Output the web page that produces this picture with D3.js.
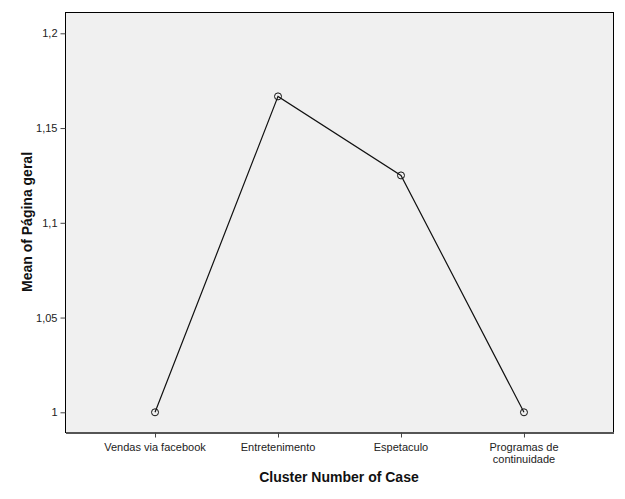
<!DOCTYPE html>
<html><head><meta charset="utf-8">
<script src="https://cdn.jsdelivr.net/npm/d3@7"></script>
<style>body{margin:0;background:#fff}svg{display:block}text{font-family:Arial,"Liberation Sans",sans-serif}</style>
</head><body><svg id="c" width="625" height="499"></svg>
<script>
const categories = [["Vendas via facebook"],["Entretenimento"],["Espetaculo"],["Programas de","continuidade"]];
const values = [1.0, 1.1667, 1.125, 1.0];
const yTicks = [1, 1.05, 1.1, 1.15, 1.2];
const yTickLabels = ["1","1,05","1,1","1,15","1,2"];
const xTitle = "Cluster Number of Case";
const yTitle = "Mean of Página geral";

const svg = d3.select("#c");
const L=65.5, R=613.5, T=12.5, B=432.5;
const x = d3.scalePoint().domain(d3.range(categories.length)).range([L,R]).padding(0.728);
const y = d3.scaleLinear().domain([1,1.2]).range([412.3,33.3]);

svg.append("rect").attr("x",L).attr("y",T).attr("width",R-L).attr("height",B-T)
  .attr("fill","#f0f0f0").attr("stroke","#000").attr("stroke-width",1);

const ya = svg.append("g").attr("transform",`translate(${L},0)`)
  .call(d3.axisLeft(y).tickValues(yTicks).tickFormat((d,i)=>yTickLabels[i]).tickSize(5).tickSizeOuter(0).tickPadding(3));
ya.select(".domain").remove();
ya.selectAll("line").attr("stroke","#444");
ya.selectAll("text").attr("font-size","11px").attr("fill","#222");

const xa = svg.append("g").attr("transform",`translate(0,${B})`)
  .call(d3.axisBottom(x).tickSize(5).tickSizeOuter(0).tickFormat(""));
xa.select(".domain").attr("stroke","#555").attr("stroke-width",2);
xa.selectAll("line").attr("stroke","#444");
categories.forEach((lines,i)=>{
  const t = svg.append("text").attr("x",x(i)).attr("y",451).attr("text-anchor","middle")
    .attr("font-size","11px").attr("fill","#222");
  lines.forEach((s,j)=>t.append("tspan").attr("x",x(i)).attr("dy",j?12:0).text(s));
});

const line = d3.line().x((d,i)=>x(i)).y(d=>y(d));
svg.append("path").datum(values).attr("d",line).attr("fill","none").attr("stroke","#111").attr("stroke-width",1.2);
svg.selectAll("circle.pt").data(values).enter().append("circle")
  .attr("cx",(d,i)=>x(i)).attr("cy",d=>y(d)).attr("r",3.5)
  .attr("fill","none").attr("stroke","#111").attr("stroke-width",1);

svg.append("text").attr("x",339).attr("y",482).attr("text-anchor","middle")
  .attr("font-size","14px").attr("font-weight","bold").attr("fill","#111").text(xTitle);
svg.append("text").attr("transform","translate(32,222) rotate(-90)").attr("text-anchor","middle")
  .attr("font-size","14px").attr("font-weight","bold").attr("fill","#111").text(yTitle);
</script></body></html>
